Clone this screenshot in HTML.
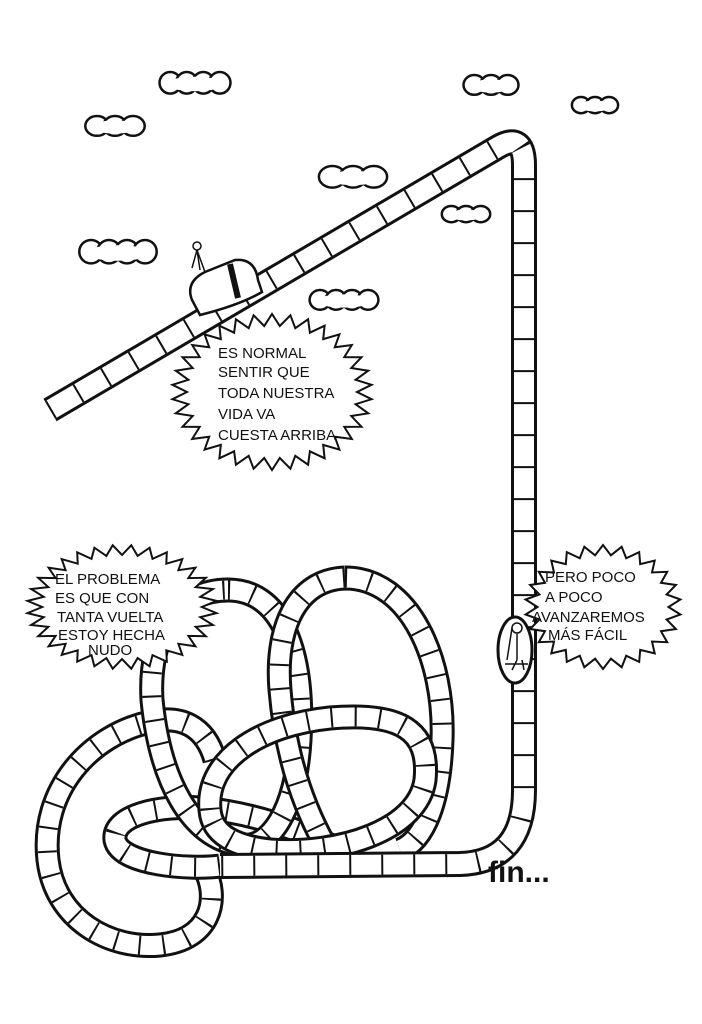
<!DOCTYPE html>
<html><head><meta charset="utf-8">
<style>
html,body{margin:0;padding:0;background:#fff;}
svg{display:block}
.t{font-family:"Liberation Sans",sans-serif;font-size:15px;fill:#111;}
</style></head><body>
<svg id="s" width="702" height="1024" viewBox="0 0 702 1024" xmlns="http://www.w3.org/2000/svg">
<defs>
<path id="p1" d="M50,410 L498,147 Q524,132 524,165 L524,790 Q524,862 460,864 L220,866"/>
<path id="p2" d="M228,590 C285,590 305,660 300,740 C296,810 270,850 240,845 C190,838 160,780 152,700 C148,630 180,590 228,590 Z"/>
<path id="p3" d="M345,578 C410,578 445,660 442,740 C440,800 425,840 400,850 M345,578 C295,580 275,630 280,690 C285,750 300,800 325,845"/>
<path id="p4" d="M210,810 C205,760 260,725 330,718 C400,712 430,730 425,780 C418,830 340,855 270,850 C235,846 212,835 210,810 Z"/>
<path id="p5" d="M220,866 C190,870 120,865 115,840 C112,815 160,805 200,808 C250,812 300,830 330,845"/>
<path id="p6" d="M215,760 C205,725 180,715 150,722 C90,735 40,790 48,860 C55,920 110,950 160,945 C210,940 220,900 205,870"/>
</defs>
<g fill="none">
<use href="#p6" stroke="#111" stroke-width="25"/><use href="#p6" stroke="#fff" stroke-width="19"/><use href="#p6" stroke="#111" stroke-width="19" stroke-dasharray="2 22"/>
<use href="#p5" stroke="#111" stroke-width="25"/><use href="#p5" stroke="#fff" stroke-width="19"/><use href="#p5" stroke="#111" stroke-width="19" stroke-dasharray="2 22"/>
<use href="#p2" stroke="#111" stroke-width="25"/><use href="#p2" stroke="#fff" stroke-width="19"/><use href="#p2" stroke="#111" stroke-width="19" stroke-dasharray="2 22"/>
<use href="#p3" stroke="#111" stroke-width="25"/><use href="#p3" stroke="#fff" stroke-width="19"/><use href="#p3" stroke="#111" stroke-width="19" stroke-dasharray="2 22"/>
<use href="#p4" stroke="#111" stroke-width="25"/><use href="#p4" stroke="#fff" stroke-width="19"/><use href="#p4" stroke="#111" stroke-width="19" stroke-dasharray="2 22"/>
<use href="#p1" stroke="#111" stroke-width="26"/><use href="#p1" stroke="#fff" stroke-width="20"/><use href="#p1" stroke="#111" stroke-width="20" stroke-dasharray="2 30"/>
</g>
<g fill="#fff" stroke="#111" stroke-width="2.5" id="clouds"></g>
<g stroke="#111" stroke-width="2.5" fill="#fff">
<path d="M192,300 Q185,282 205,272 L235,260 Q255,258 258,280 L262,292 Q240,305 200,315 Z"/>
<line x1="230" y1="264" x2="238" y2="298" stroke-width="6"/>
<path d="M200,270 L197,250 M197,250 L192,268 M197,250 L205,272" fill="none" stroke-width="1.5"/>
<circle cx="197" cy="246" r="4" fill="#fff" stroke-width="1.5"/>
</g>
<ellipse cx="515" cy="650" rx="17" ry="33" fill="#fff" stroke="#111" stroke-width="3"/>
<g stroke="#111" stroke-width="1.5" fill="none">
<circle cx="517" cy="628" r="5"/><path d="M512,628 L507,660 M517,634 L517,660 M505,664 L528,664 M517,660 L512,670 M522,660 L524,670"/>
</g>
<g id="bursts" fill="#fff" stroke="#111" stroke-width="2"></g>
<text class="t" x="218" y="358">ES NORMAL</text>
<text class="t" x="218" y="377">SENTIR QUE</text>
<text class="t" x="218" y="398">TODA NUESTRA</text>
<text class="t" x="218" y="419">VIDA VA</text>
<text class="t" x="218" y="440">CUESTA ARRIBA</text>
<text class="t" x="55" y="584" font-size="14">EL PROBLEMA</text>
<text class="t" x="55" y="603" font-size="14">ES QUE CON</text>
<text class="t" x="57" y="622" font-size="14">TANTA VUELTA</text>
<text class="t" x="58" y="640" font-size="14">ESTOY HECHA</text>
<text class="t" x="88" y="655" font-size="14">NUDO</text>
<text class="t" x="545" y="582" font-size="14">PERO POCO</text>
<text class="t" x="545" y="602" font-size="14">A POCO</text>
<text class="t" x="532" y="622" font-size="13">AVANZAREMOS</text>
<text class="t" x="548" y="640" font-size="14">MÁS FÁCIL</text>
<text x="488" y="882" font-family="Liberation Sans,sans-serif" font-weight="bold" font-size="30" fill="#111">fin...</text>
</svg>
<script>
var NS="http://www.w3.org/2000/svg";
function burst(cx,cy,rx,ry,n,d){var p=[];for(var i=0;i<2*n;i++){var a=i*Math.PI/n,k=i%2?1:1-d;p.push((cx+Math.cos(a)*rx*k).toFixed(1)+","+(cy+Math.sin(a)*ry*k).toFixed(1));}
var e=document.createElementNS(NS,"polygon");e.setAttribute("points",p.join(" "));document.getElementById("bursts").appendChild(e);}
burst(272,392,100,78,34,0.15);burst(122,607,95,62,32,0.16);burst(603,607,78,62,26,0.16);
function cloud(x,y,w,h){var g=document.getElementById("clouds");var n=Math.max(3,Math.round(w/18));
var r=w/(n*2);for(var i=0;i<n;i++){var c=document.createElementNS(NS,"ellipse");c.setAttribute("cx",x+r+i*2*r);c.setAttribute("cy",y+h*0.45);c.setAttribute("rx",r*1.3);c.setAttribute("ry",h*0.45);g.appendChild(c);}
var f=document.createElementNS(NS,"ellipse");f.setAttribute("cx",x+w/2);f.setAttribute("cy",y+h*0.5);f.setAttribute("rx",w/2-4);f.setAttribute("ry",h*0.3);f.setAttribute("stroke","none");g.appendChild(f);}
cloud(162,72,66,24);cloud(88,116,54,22);cloud(322,166,62,24);cloud(466,75,50,22);cloud(574,97,42,18);cloud(82,240,72,26);cloud(312,290,64,22);cloud(444,206,44,18);
</script>
</body></html>
